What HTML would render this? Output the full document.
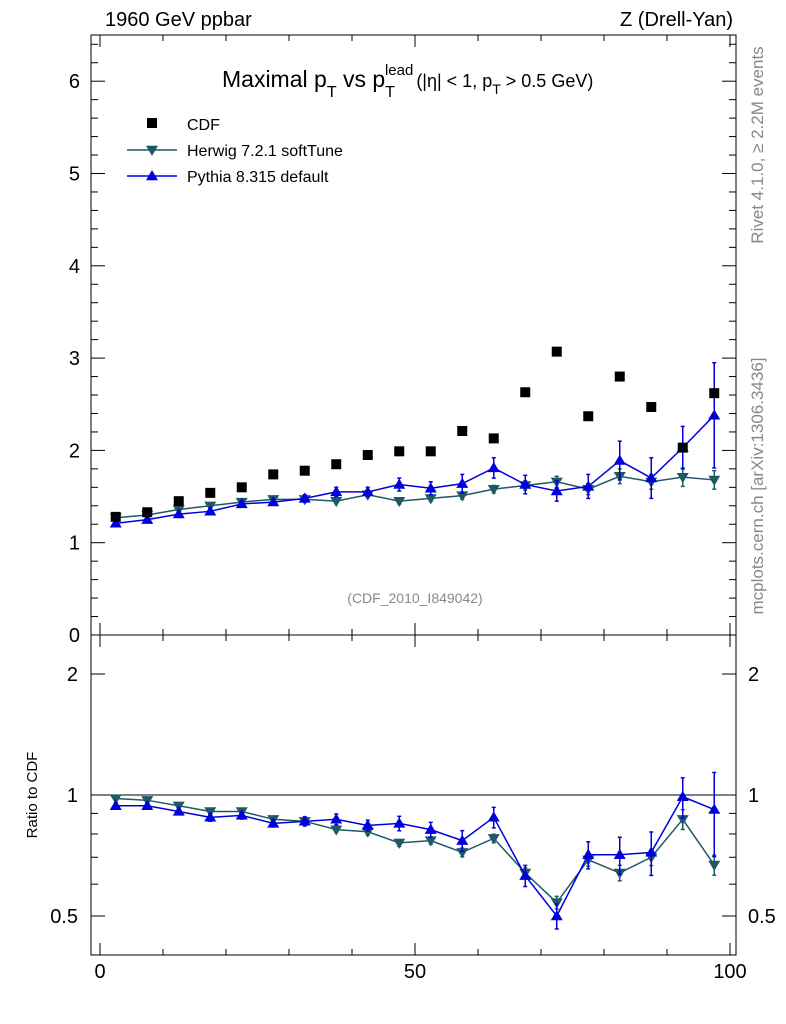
<!DOCTYPE html>
<html><head><meta charset="utf-8"><style>
body{margin:0;background:#fff;}
svg{display:block;font-family:"Liberation Sans",sans-serif;}
</style></head><body>
<svg id="c" width="786" height="1024" xmlns="http://www.w3.org/2000/svg"></svg>
<script>
const xCenters=[2.5,7.5,12.5,17.5,22.5,27.5,32.5,37.5,42.5,47.5,52.5,57.5,62.5,67.5,72.5,77.5,82.5,87.5,92.5,97.5];
const cdfVals=[1.28,1.33,1.45,1.54,1.60,1.74,1.78,1.85,1.95,1.99,1.99,2.21,2.13,2.63,3.07,2.37,2.80,2.47,2.03,2.62];
const herwigVals=[1.27,1.30,1.36,1.40,1.44,1.47,1.47,1.45,1.52,1.45,1.48,1.51,1.58,1.62,1.66,1.58,1.72,1.66,1.71,1.68];
const herwigErr=[0.01,0.01,0.01,0.01,0.02,0.02,0.02,0.02,0.03,0.03,0.03,0.04,0.04,0.05,0.06,0.06,0.08,0.08,0.1,0.1];
const pythiaVals=[1.21,1.25,1.31,1.34,1.42,1.44,1.48,1.55,1.55,1.63,1.59,1.64,1.81,1.63,1.56,1.61,1.89,1.70,2.03,2.38];
const pythiaErr=[0.02,0.02,0.02,0.03,0.03,0.03,0.04,0.05,0.05,0.07,0.07,0.1,0.11,0.1,0.11,0.13,0.21,0.22,0.23,0.57];
const herwigRatio=[0.98,0.97,0.94,0.91,0.91,0.87,0.86,0.82,0.81,0.76,0.77,0.72,0.78,0.64,0.54,0.69,0.64,0.70,0.87,0.67];
const pythiaRatio=[0.94,0.94,0.91,0.88,0.89,0.85,0.86,0.87,0.84,0.85,0.82,0.77,0.88,0.63,0.50,0.71,0.71,0.72,0.99,0.92];
const xTicks=[0,50,100];
const yTicks=[0,1,2,3,4,5,6];
const rTicks=[0.5,1,2];

const svg=document.getElementById('c');
const NS='http://www.w3.org/2000/svg';
function el(t,a,p){const e=document.createElementNS(NS,t);for(const k in a)e.setAttribute(k,a[k]);(p||svg).appendChild(e);return e;}
const L=91,R=736,T=35,M=635,B=955;
const X=v=>100+v*6.3;
const Y=v=>635-v*92.3;
const YR=v=>795-Math.log2(v)*121;

let f1=el('rect',{x:L,y:T,width:R-L,height:M-T,fill:'none',stroke:'#000','stroke-width':1});


let f2=el('rect',{x:L,y:M,width:R-L,height:B-M,fill:'none',stroke:'#000','stroke-width':1});



for(let v=0;v<=100;v+=10){
  const big=xTicks.includes(v);const len=big?12:6;
  for(const [y0,dir] of [[B,-1],[M,-1],[M,1],[T,1]]){
    el('line',{x1:X(v),x2:X(v),y1:y0,y2:y0+dir*len,stroke:'#000'});
  }
}
for(const v of xTicks){
  const t=el('text',{x:X(v),y:978,'font-size':20,'text-anchor':'middle'});t.textContent=v;
  
  
}
for(let v=0;v<=6.5;v+=0.2){
  const big=Math.abs(v-Math.round(v))<1e-6;const len=big?14:7;
  el('line',{x1:L,x2:L+len,y1:Y(v),y2:Y(v),stroke:'#000'});
  el('line',{x1:R,x2:R-len,y1:Y(v),y2:Y(v),stroke:'#000'});
}
for(const v of yTicks){
  const t=el('text',{x:80,y:Y(v)+7,'font-size':20,'text-anchor':'end'});t.textContent=v;
  
  
}
[0.4,0.5,0.6,0.7,0.8,0.9,1,2].forEach(v=>{
  const big=rTicks.includes(v);const len=big?14:7;
  el('line',{x1:L,x2:L+len,y1:YR(v),y2:YR(v),stroke:'#000'});
  el('line',{x1:R,x2:R-len,y1:YR(v),y2:YR(v),stroke:'#000'});
});
for(const v of rTicks){
  const t=el('text',{x:78,y:YR(v)+7,'font-size':20,'text-anchor':'end'});t.textContent=v;
  
  
  const t2=el('text',{x:748,y:YR(v)+7,'font-size':20});t2.textContent=v;
  
  
}
el('line',{x1:L,x2:R,y1:YR(1),y2:YR(1),stroke:'#000'});

function tri(cx,cy,up,col,s){
  const h=s;const p=up?`${cx},${cy-h} ${cx-h},${cy+h*0.7} ${cx+h},${cy+h*0.7}`:`${cx},${cy+h} ${cx-h},${cy-h*0.7} ${cx+h},${cy-h*0.7}`;
  return el('polygon',{points:p,fill:col});
}
function series(vals,err,Yf,col,up,name){
  const g=el('g',{});
  
  
  el('polyline',{points:vals.map((v,i)=>X(xCenters[i])+','+Yf(v)).join(' '),fill:'none',stroke:col,'stroke-width':1.5},g);
  vals.forEach((v,i)=>{
    const e=err[i];const cx=X(xCenters[i]);
    const y1=Yf(v+e),y2=Yf(Math.max(v-e,0.01));
    el('line',{x1:cx,x2:cx,y1:y1,y2:y2,stroke:col,'stroke-width':1.5},g);
    el('line',{x1:cx-2,x2:cx+2,y1:y1,y2:y1,stroke:col,'stroke-width':1.5},g);
    el('line',{x1:cx-2,x2:cx+2,y1:y2,y2:y2,stroke:col,'stroke-width':1.5},g);
    tri(cx,Yf(v),up,col,6);
  });
}
const HC='#1f5a64',PC='#0000dd';
series(herwigVals,herwigErr,Y,HC,false,'herwig-series');
series(pythiaVals,pythiaErr,Y,PC,true,'pythia-series');
series(herwigRatio,herwigVals.map((v,i)=>herwigErr[i]/cdfVals[i]),YR,HC,false,'herwig-ratio');
series(pythiaRatio,pythiaVals.map((v,i)=>pythiaErr[i]/cdfVals[i]),YR,PC,true,'pythia-ratio');
cdfVals.forEach((v,i)=>{
  const r=el('rect',{x:X(xCenters[i])-5,y:Y(v)-5,width:10,height:10,fill:'#000'});
  
  
});

function txt(s,a,name){const t=el('text',a);t.innerHTML=s;return t;}
txt('1960 GeV ppbar',{x:105,y:26,'font-size':20},'energy-label');
txt('Z (Drell-Yan)',{x:733,y:26,'font-size':20,'text-anchor':'end'},'process-label');
txt('Maximal p<tspan font-size="16" dy="10">T</tspan><tspan dy="-10"> vs p</tspan><tspan font-size="16" dy="10">T</tspan><tspan font-size="15" dx="-10" dy="-22">lead</tspan><tspan font-size="18" dy="12" dx="3">(|η| &lt; 1, p</tspan><tspan font-size="14" dy="7">T</tspan><tspan font-size="18" dy="-7"> &gt; 0.5 GeV)</tspan>',{x:222,y:87,'font-size':23},'plot-title');
txt('(CDF_2010_I849042)',{x:415,y:603,'font-size':14,fill:'#888','text-anchor':'middle'},'analysis-label');
txt('Ratio to CDF',{x:37,y:795,'font-size':15,'text-anchor':'middle',transform:'rotate(-90 37 795)'},'ratio-axis-title');
txt('Rivet 4.1.0, ≥ 2.2M events',{x:763,y:145,'font-size':17,fill:'#888','text-anchor':'middle',transform:'rotate(-90 763 145)'},'rivet-label');
txt('mcplots.cern.ch [arXiv:1306.3436]',{x:763,y:486,'font-size':17,fill:'#888','text-anchor':'middle',transform:'rotate(-90 763 486)'},'mcplots-label');
const lg=el('g',{});
el('rect',{x:147,y:118,width:10,height:10,fill:'#000'},lg);
txt('CDF',{x:187,y:130,'font-size':16},'legend-cdf');
el('line',{x1:127,x2:177,y1:150,y2:150,stroke:HC,'stroke-width':1.5},lg);tri(152,150,false,HC,6);
txt('Herwig 7.2.1 softTune',{x:187,y:156,'font-size':16},'legend-herwig');
el('line',{x1:127,x2:177,y1:176,y2:176,stroke:PC,'stroke-width':1.5},lg);tri(152,176,true,PC,6);
txt('Pythia 8.315 default',{x:187,y:182,'font-size':16},'legend-pythia');
</script>
</body></html>
